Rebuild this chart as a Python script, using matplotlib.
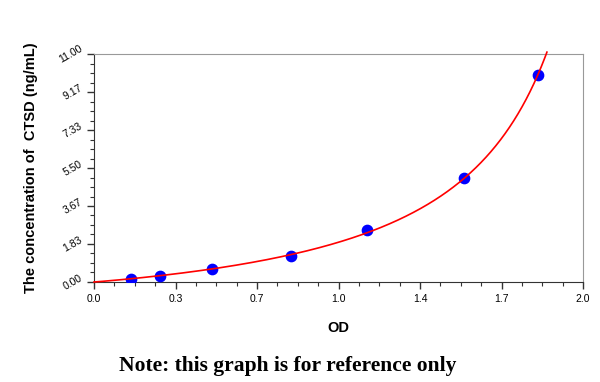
import numpy as np
import matplotlib.pyplot as plt
from matplotlib.ticker import MultipleLocator, FixedLocator

# standards
od = [0.151, 0.269, 0.483, 0.806, 1.118, 1.513, 1.817]
conc = [0.156, 0.312, 0.625, 1.25, 2.5, 5.0, 10.0]

xticks = [0.0, 1 / 3, 2 / 3, 1.0, 4 / 3, 5 / 3, 2.0]
xlabels = ["0.0", "0.3", "0.7", "1.0", "1.4", "1.7", "2.0"]
yticks = [0.0, 11 / 6, 22 / 6, 5.5, 44 / 6, 55 / 6, 11.0]
ylabels = ["0.00", "1.83", "3.67", "5.50", "7.33", "9.17", "11.00"]

# standard curve: conc = c * (od / (d - od)) ** p, fitted to the standards
x = np.array(od)
y = np.array(conc)
best = None
for d in np.linspace(1.9, 4.0, 400):
    u = np.log(x / (d - x))
    p, lc = np.polyfit(u, np.log(y), 1)
    err = np.sum((np.polyval([p, lc], u) - np.log(y)) ** 2)
    if best is None or err < best[0]:
        best = (err, d, p, lc)
_, d, p, lc = best

xs = np.linspace(0, d - 1e-3, 2000)
ys = np.exp(lc) * (xs / (d - xs)) ** p
keep = ys <= 11.12
xs, ys = xs[keep], ys[keep]

fig = plt.figure(figsize=(6, 3.82), dpi=100)
ax = fig.add_axes([0.1567, 0.2618, 0.815, 0.5968])

ax.scatter(od, conc, s=55, color="#0000ff", zorder=3)
ax.plot(xs, ys, color="#ff0000", lw=1.2, zorder=4, clip_on=False)

ax.set_xlim(0, 2.0)
ax.set_ylim(0, 11.0)
ax.xaxis.set_major_locator(FixedLocator(xticks))
ax.set_xticklabels(xlabels)
ax.xaxis.set_minor_locator(MultipleLocator(1 / 12))
ax.yaxis.set_major_locator(FixedLocator(yticks))
ax.set_yticklabels(ylabels, rotation=30, va="center")
ax.yaxis.set_minor_locator(MultipleLocator(11 / 24))

ax.tick_params(which="major", direction="out", length=5, width=1, labelsize=7.5, color="#333333")
ax.tick_params(which="minor", direction="out", length=3, width=0.8, color="#333333")
ax.tick_params(axis="x", pad=4)
ax.tick_params(axis="y", pad=2)
for lab in ax.get_xticklabels() + ax.get_yticklabels():
    lab.set_family("Liberation Sans")

for s in ["top", "right"]:
    ax.spines[s].set_color("#999999")
for s in ["left", "bottom"]:
    ax.spines[s].set_color("#333333")

ax.set_xlabel("OD", fontsize=10.5, fontweight="bold", family="Liberation Sans", labelpad=12)
ax.set_ylabel("The concentration of  CTSD (ng/mL)", fontsize=10.5, fontweight="bold",
              family="Liberation Sans", labelpad=14)

fig.text(0.48, 0.042, "Note: this graph is for reference only", fontsize=15.5,
         fontweight="bold", family="Liberation Serif", ha="center", va="center")

fig.savefig("out.png", dpi=100)
